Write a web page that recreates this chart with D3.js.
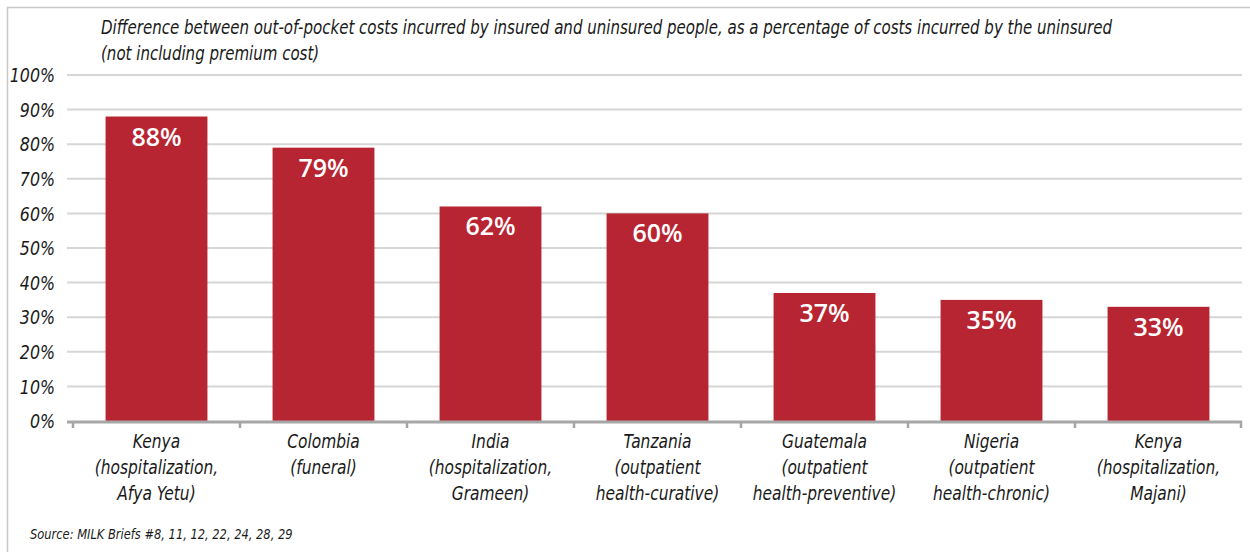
<!DOCTYPE html>
<html>
<head>
<meta charset="utf-8">
<script src="https://cdn.jsdelivr.net/npm/d3@7"></script>
<style>
  body { margin: 0; background: #fff; }
  svg text { font-family: "DejaVu Sans Condensed", "DejaVu Sans", sans-serif; }
</style>
</head>
<body>
<div id="chart"></div>
<script>
const WIDTH = 1250;
const HEIGHT = 552;
const MARGIN = { TOP: 75, BOTTOM: 131, LEFT: 73, RIGHT: 8 };
const SX = 0.88; // squeeze the italic text a bit, the original uses a condensed face

const categories = [
  ["Kenya", "(hospitalization,", "Afya Yetu)"],
  ["Colombia", "(funeral)"],
  ["India", "(hospitalization,", "Grameen)"],
  ["Tanzania", "(outpatient", "health-curative)"],
  ["Guatemala", "(outpatient", "health-preventive)"],
  ["Nigeria", "(outpatient", "health-chronic)"],
  ["Kenya", "(hospitalization,", "Majani)"]
];
const values = [88, 79, 62, 60, 37, 35, 33];
const yTicks = [0, 10, 20, 30, 40, 50, 60, 70, 80, 90, 100];
const titleLines = [
  "Difference between out-of-pocket costs incurred by insured and uninsured people, as a percentage of costs incurred by the uninsured",
  "(not including premium cost)"
];
const sourceText = "Source: MILK Briefs #8, 11, 12, 22, 24, 28, 29";

const BAR_COLOR = "#b82532";
const TEXT_COLOR = "#1a1a1a";

const w = WIDTH - MARGIN.LEFT - MARGIN.RIGHT;
const h = HEIGHT - MARGIN.TOP - MARGIN.BOTTOM;

const svg = d3.select("#chart").append("svg")
  .attr("width", WIDTH)
  .attr("height", HEIGHT);

// frame
svg.append("path")
  .attr("d", `M7.5,${HEIGHT} V7.5 H${WIDTH}`)
  .attr("fill", "none")
  .attr("stroke", "#c8c8c8")
  .attr("stroke-width", 1.5);

svg.selectAll(".title")
  .data(titleLines)
  .enter()
  .append("g")
    .attr("transform", (d, i) => `translate(101, ${34 + i * 26}) scale(${SX}, 1)`)
  .append("text")
    .style("font-style", "italic")
    .style("font-size", "19px")
    .style("fill", TEXT_COLOR)
    .text(d => d);

const g = svg.append("g")
  .attr("transform", `translate(${MARGIN.LEFT}, ${MARGIN.TOP})`);

const idx = d3.range(values.length);
const x = d3.scaleBand().domain(idx).range([0, w]).paddingInner(0.39).paddingOuter(0.195);
const band = d3.scaleBand().domain(idx).range([0, w]);
const y = d3.scaleLinear().domain([0, 100]).range([h, 0]);

// gridlines
g.append("g")
  .selectAll("line")
  .data(yTicks.filter(t => t > 0))
  .enter()
  .append("line")
    .attr("x1", -6)
    .attr("x2", w)
    .attr("y1", d => y(d))
    .attr("y2", d => y(d))
    .attr("stroke", "#d6d6d6")
    .attr("stroke-width", 2);

// y labels
g.append("g")
  .selectAll("g")
  .data(yTicks)
  .enter()
  .append("g")
    .attr("transform", d => `translate(-18, ${y(d)}) scale(${SX}, 1)`)
  .append("text")
    .attr("dy", "0.36em")
    .attr("text-anchor", "end")
    .style("font-style", "italic")
    .style("font-size", "20px")
    .style("fill", TEXT_COLOR)
    .text(d => d + "%");

// bars
g.selectAll(".bar")
  .data(values)
  .enter()
  .append("rect")
    .attr("class", "bar")
    .attr("x", (d, i) => x(i))
    .attr("y", d => y(d))
    .attr("width", x.bandwidth())
    .attr("height", d => h - y(d))
    .attr("fill", BAR_COLOR);

g.selectAll(".barlabel")
  .data(values)
  .enter()
  .append("text")
    .attr("x", (d, i) => x(i) + x.bandwidth() / 2)
    .attr("y", d => y(d) + 29)
    .attr("text-anchor", "middle")
    .style("font-family", "'Open Sans', sans-serif")
    .style("font-weight", "600")
    .style("font-size", "25px")
    .style("fill", "#fff")
    .text(d => d + "%");

// x axis
const axis = g.append("g");
axis.append("line")
  .attr("x1", -6)
  .attr("x2", w)
  .attr("y1", h + 1)
  .attr("y2", h + 1)
  .attr("stroke", "#a6a6a6")
  .attr("stroke-width", 3);

axis.selectAll(".tick")
  .data(idx.concat([values.length]))
  .enter()
  .append("line")
    .attr("x1", d => d < values.length ? band(d) : w - 1)
    .attr("x2", d => d < values.length ? band(d) : w - 1)
    .attr("y1", h)
    .attr("y2", h + 7)
    .attr("stroke", "#a6a6a6")
    .attr("stroke-width", 2.5);

const catLabels = g.append("g")
  .selectAll("g")
  .data(categories)
  .enter()
  .append("g")
    .attr("transform", (d, i) => `translate(${band(i) + band.bandwidth() / 2}, ${h + 27}) scale(${SX}, 1)`)
  .append("text")
    .attr("text-anchor", "middle")
    .style("font-style", "italic")
    .style("font-size", "19.5px")
    .style("fill", TEXT_COLOR);

catLabels.selectAll("tspan")
  .data(d => d)
  .enter()
  .append("tspan")
    .attr("x", 0)
    .attr("dy", (d, i) => i === 0 ? 0 : 26)
    .text(d => d);

svg.append("g")
  .attr("transform", `translate(30, 539) scale(${SX}, 1)`)
  .append("text")
  .style("font-style", "italic")
  .style("font-size", "14.5px")
  .style("fill", TEXT_COLOR)
  .text(sourceText);
</script>
</body>
</html>
